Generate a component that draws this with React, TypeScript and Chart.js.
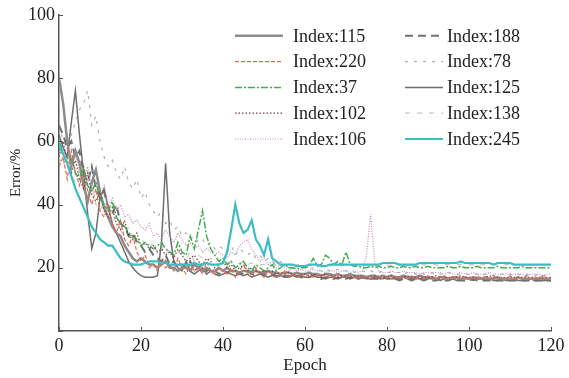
import React, { useEffect, useRef } from 'react';
import { Chart, registerables } from 'chart.js';

Chart.register(...registerables);

// Epochs 0..120
const epochs: number[] = Array.from({ length: 121 }, (_, i) => i);

const xTicks = [0, 20, 40, 60, 80, 100, 120];
const yTicks = [0, 20, 40, 60, 80, 100];

const idx115 = [80,72,60,52,57,53,46,41,47,51,
 44,39,36,33,31,30,27,25,23,22,
 23,22,21,21,20,21,22,20,20,19,
 20,20,19,21,20,19,20,19,19,20,
 19,20,19,19,18.5,19,19,18.5,19,18.5,
 18.5,19,18.5,18.5,18,18.5,18.5,18,18.5,18,
 18,18.5,18,18,17.5,18,18,17.5,18,17.5,
 17.5,18,17.5,17.5,17.5,17,17.5,17.5,17,17.5,
 17,17.5,17,17,17.5,17,17,17,17.5,17,
 17,17,16.5,17,17,16.5,17,17,16.5,17,
 16.5,17,16.5,16.5,17,16.5,16.5,17,16.5,16.5,
 16.5,16.5,17,16.5,16.5,16.5,16.5,16.5,16.5,16.5,
 16.5];

const idx220 = [52,55,48,57,50,46,52,44,40,45,
 38,36,40,34,31,35,29,27,30,25,
 22,24,20,21,19,22,20,21,19,23,
 20,18,21,19,20,18,22,19,18,20,
 19,18,20,17,19,21,18,17,20,18,
 17,19,18,17,18,19,17,18,17,18,
 17,18,17,17.5,18,17,17.5,17,18,17,
 17,17.5,17,16.5,17.5,17,16.5,17,17.5,16.5,
 17,16.5,17.5,16.5,17,16.5,17.5,16.5,17,16.5,
 17.5,16.5,17,16.5,17.5,16.5,17,16.5,17.5,16.5,
 17,16.5,17.5,16.5,17,16.5,17.5,16.5,17,16.5,
 17.5,16.5,17,16.5,17.5,16.5,17,16.5,17.5,16.5,
 17];

const idx37 = [58,56,53,55,50,48,52,46,44,47,
 42,40,38,41,36,34,33,31,30,29,
 27,28,27,26,27,28,26,25,24,28,
 25,24,30,26,32,38,30,26,24,22,
 23,21,22,20,21,22,20,19,21,20,
 19,20,21,19,20,21,20,20,19.5,20,
 20,20.5,23,20.5,21,24,23,21,22,21,
 25,21,20.5,20.5,20,20,20.5,20,20.5,20,
 20,20.5,20,20,20.5,20,20,20.5,20,20,
 20.5,20,20,20,20,20.5,20,20,20.5,20,
 20,20,20.5,20,20,20,20,20.5,20,20,
 20,20,20,20.5,20,20,20,20,20,20,
 20];

const idx102 = [55,60,53,50,54,48,45,50,43,41,
 44,38,36,39,34,32,35,30,29,31,
 27,28,26,27,25,26,24,25,23,26,
 24,22,23,24,22,21,23,22,20,21,
 22,20,21,19,20,21,19,20,19,18.5,
 19,18.5,19,18,18.5,18,18.5,18,17.5,18,
 18,17.5,18,17.5,17.5,18,17.5,17.5,17,17.5,
 17.5,17,17.5,17,17.5,17,17,17.5,17,17,
 17,17.5,17,17,17,17.5,17,17,17,17,
 17,17,17.5,17,17,17,17,17,17.5,17,
 17,17,17,17,17,17.5,17,17,17,17,
 17,17,17,17,17,17,17,17,17,17,
 17];

const idx106 = [60,55,58,52,56,50,48,52,45,47,
 43,46,40,42,38,40,36,37,34,35,
 33,32,34,30,31,29,32,30,28,31,
 29,27,28,26,27,25,26,25,24,25,
 24,23,25,24,27,28,29,26,24,22,
 23,21,22,20,21,20,19,20,19,19.5,
 19,19,19.5,19,19,18.5,19,19,18.5,19,
 19,18.5,19,18.5,19,24,37,22,19,18.5,
 18.5,19,18.5,18.5,19,18.5,18.5,18.5,18,18.5,
 18.5,18,18.5,18.5,18,18.5,18,18,18.5,18,
 18,18.5,18,18,18,18.5,18,18,18,18,
 18,18,18,18,17.5,18,18,18,17.5,18,
 18];

const idx188 = [65,62,58,60,55,57,50,47,52,45,
 42,44,39,37,40,34,33,30,31,28,
 27,25,26,24,23,22,24,21,22,20,
 21,20,22,19,20,21,19,20,19,18,
 19,18.5,19,18,18.5,18,19,18,17.5,18,
 18,17.5,18,17.5,17,17.5,17.5,17,17.5,17,
 17,17,17.5,17,16.5,17,17,16.5,17,16.5,
 16.5,17,16.5,16.5,17,16.5,16.5,16.5,16.5,17,
 16.5,16.5,16.5,16,16.5,16.5,16,16.5,16.5,16,
 16.5,16,16,16.5,16,16,16.5,16,16,16,
 16,16.5,16,16,16,16,16,16,16,16,
 16,16,16,16,16,16,16,16,16,16,
 16];

const idx78 = [65,60,58,62,66,70,72,76,65,68,
 60,55,52,54,50,48,52,47,45,48,
 42,44,40,38,36,38,34,35,32,33,
 30,31,29,30,28,29,27,28,26,27,
 26,25,27,24,26,25,24,25,23,24,
 22,23,22,21,22,21,20,21,20,20.5,
 20,19.5,20,19.5,19,19.5,19,19,19.5,19,
 19,19,18.5,19,19,18.5,19,18.5,18.5,19,
 18.5,18.5,18.5,18.5,18,18.5,18.5,18,18.5,18,
 18,18.5,18,18,18,18.5,18,18,18,18,
 18,18,18,17.5,18,18,17.5,18,18,17.5,
 18,17.5,18,17.5,18,17.5,17.5,18,17.5,17.5,
 17.5];

const idx125 = [62,58,55,66,76,62,50,37,26,31,
 42,45,39,34,31,28,25,22,20,18.5,
 17.5,17,17,17,17.5,28,53,31,22,20,
 19,22,19,18,19,20,18,19,18,17.5,
 18,18.5,18,17.5,18,17.5,18,17,17.5,18,
 17.5,17,17.5,17,17.5,17,17,17.5,17,17.5,
 17,17,17.5,17,17,16.5,17,17,16.5,17,
 17,16.5,17,16.5,17,16.5,16.5,17,16.5,16.5,
 17,16.5,16.5,16.5,17,16.5,16.5,16.5,16.5,17,
 16.5,16.5,16.5,16,16.5,16.5,16.5,16,16.5,16.5,
 16.5,16,16.5,16.5,16,16.5,16,16,16.5,16,
 16,16.5,16,16,16,16.5,16,16,16,16,
 16];

const idx138 = [55,52,56,50,47,51,45,43,46,40,
 38,41,36,34,37,32,30,33,29,28,
 30,27,26,28,25,27,24,26,23,25,
 24,23,25,22,24,23,22,23,22,21,
 22,21.5,22,21,21.5,22,21,21.5,21,21,
 21,21.5,21,21,20.5,21,21,20.5,21,21,
 20.5,21,21,20.5,21,21,20.5,21,21,20.5,
 21,21,20.5,21,21,21,20.5,21,21,21,
 21,20.5,21,21,21,21,20.5,21,21,21,
 21,21,21,20.5,21,21,21,21,21,21,
 21,21,20.5,21,21,21,21,21,21,21,
 21,21,21,21,21,21,21,21,21,21,
 21];

const idx245 = [60,56,53,49,45,42,39,36,33,31,
 29,28,27,27,25,23,22,21.5,21,21,
 21,21.5,22,22,22,21.5,21.5,21,21,21,
 21,21,21,21.5,21,21,21.5,21,21,21,
 21.5,25,32,40,34,31,32,35,29,27,
 24,29,23,22,21,21,21,21,20.5,20.5,
 20.5,21,21,21,20.5,20.5,21,21,21,21,
 21,21,21,21,21,21,21,21,21,21.5,
 21.5,21.5,21.5,21,21,21,21,21,21.5,21.5,
 21.5,21.5,21.5,21.5,21.5,21.5,21.5,21.5,22,21.5,
 21.5,21.5,21.5,21.5,21.5,21.5,21,21.5,21.5,21.5,
 21.5,21,21,21,21,21,21,21,21,21,
 21];

const seriesNames = ['Index:115','Index:220','Index:37','Index:102','Index:106','Index:188','Index:78','Index:125','Index:138','Index:245'];
const seriesValues = [idx115, idx220, idx37, idx102, idx106, idx188, idx78, idx125, idx138, idx245];

const styles = [
  { color: '#8c8c8c', width: 2.5, dash: [] as number[], order: 5 },
  { color: '#e8684a', width: 1.2, dash: [4, 2], order: 3 },
  { color: '#3fae4f', width: 1.5, dash: [7, 2, 2, 2], order: 2 },
  { color: '#7a3d4a', width: 1.2, dash: [1.5, 2], order: 4 },
  { color: '#c58ac5', width: 1.2, dash: [1, 1.5], order: 4 },
  { color: '#707070', width: 2, dash: [8, 5], order: 6 },
  { color: '#b0b0b0', width: 1.2, dash: [3, 6], order: 7 },
  { color: '#6e6e6e', width: 1.5, dash: [], order: 5 },
  { color: '#c8c8c8', width: 1.2, dash: [5, 7], order: 8 },
  { color: '#3dbdc2', width: 2.2, dash: [], order: 1 },
];

const FONT = "'Liberation Serif', 'Times New Roman', serif";

const framePlugin = {
  id: 'frameTicks',
  afterDraw(chart: any) {
    const { ctx, chartArea, scales } = chart;
    ctx.save();
    ctx.strokeStyle = '#555';
    ctx.lineWidth = 1;
    ctx.setLineDash([]);
    xTicks.forEach((v) => {
      const px = Math.round(scales.x.getPixelForValue(v)) + 0.5;
      ctx.beginPath();
      ctx.moveTo(px, chartArea.bottom);
      ctx.lineTo(px, chartArea.bottom - 4);
      ctx.stroke();
    });
    yTicks.forEach((v) => {
      const py = Math.round(scales.y.getPixelForValue(v)) + 0.5;
      ctx.beginPath();
      ctx.moveTo(chartArea.left, py);
      ctx.lineTo(chartArea.left + 4, py);
      ctx.stroke();
    });
    ctx.restore();
  },
};

const legendLayout = [
  [0, 1, 2, 3, 4],
  [5, 6, 7, 8, 9],
];

const legendPlugin = {
  id: 'innerLegend',
  afterDatasetsDraw(chart: any) {
    const { ctx, chartArea } = chart;
    const colLineStart = [chartArea.left + 176, chartArea.left + 346];
    const colLineEnd = [chartArea.left + 224, chartArea.left + 384];
    const colText = [chartArea.left + 234, chartArea.left + 388];
    const rowY0 = chartArea.top + 21;
    const rowStep = 25.8;
    ctx.save();
    ctx.font = `18px ${FONT}`;
    ctx.textBaseline = 'middle';
    ctx.textAlign = 'left';
    legendLayout.forEach((col, c) => {
      col.forEach((si, r) => {
        const ds = chart.data.datasets[si];
        const y = rowY0 + r * rowStep;
        ctx.strokeStyle = ds.borderColor;
        ctx.lineWidth = ds.borderWidth;
        ctx.setLineDash(ds.borderDash || []);
        ctx.beginPath();
        ctx.moveTo(colLineStart[c], y);
        ctx.lineTo(colLineEnd[c], y);
        ctx.stroke();
        ctx.setLineDash([]);
        ctx.fillStyle = '#222';
        ctx.fillText(ds.label, colText[c], y + 1);
      });
    });
    ctx.restore();
  },
};

export default function App() {
  const canvasRef = useRef<HTMLCanvasElement | null>(null);

  useEffect(() => {
    if (!canvasRef.current) return;
    const datasets = seriesNames.map((name, i) => ({
      label: name,
      data: epochs.map((e, j) => ({ x: e, y: seriesValues[i][j] })),
      borderColor: styles[i].color,
      backgroundColor: styles[i].color,
      borderWidth: styles[i].width,
      borderDash: styles[i].dash,
      pointRadius: 0,
      tension: 0,
      fill: false,
      order: styles[i].order,
    }));

    const chart = new Chart(canvasRef.current, {
      type: 'line',
      data: { datasets },
      options: {
        animation: false,
        responsive: true,
        maintainAspectRatio: false,
        layout: { padding: { top: 13, right: 18, left: 0, bottom: 0 } },
        plugins: {
          legend: { display: false },
          tooltip: { enabled: false },
        },
        scales: {
          x: {
            type: 'linear',
            min: 0,
            max: 120,
            afterFit: (s: any) => { s.height = 47; },
            afterBuildTicks: (s: any) => { s.ticks = xTicks.map((v) => ({ value: v })); },
            grid: { display: false, drawTicks: false },
            border: { display: true, color: '#555', width: 1.5 },
            ticks: {
              padding: 4,
              color: '#222',
              font: { family: FONT, size: 18 },
              maxRotation: 0,
              autoSkip: false,
            },
            title: {
              display: true,
              text: 'Epoch',
              color: '#222',
              font: { family: FONT, size: 17 },
              padding: { top: 0, bottom: 2 },
            },
          },
          y: {
            type: 'linear',
            min: 0,
            max: 100,
            afterFit: (s: any) => { s.width = 59; },
            afterBuildTicks: (s: any) => { s.ticks = yTicks.map((v) => ({ value: v })); },
            grid: { display: false, drawTicks: false },
            border: { display: true, color: '#555', width: 1.5 },
            ticks: {
              padding: 4,
              color: '#222',
              font: { family: FONT, size: 18 },
              callback: (v: any) => (v === 0 ? '' : String(v)),
            },
            title: {
              display: true,
              text: 'Error/%',
              color: '#222',
              font: { family: FONT, size: 15 },
              padding: { top: 7, bottom: 0 },
            },
          },
        },
      },
      plugins: [framePlugin, legendPlugin],
    });
    return () => chart.destroy();
  }, []);

  return (
    <div style={{ position: 'absolute', left: 0, top: 0, width: 569, height: 378, background: '#fff' }}>
      <canvas ref={canvasRef} />
    </div>
  );
}
